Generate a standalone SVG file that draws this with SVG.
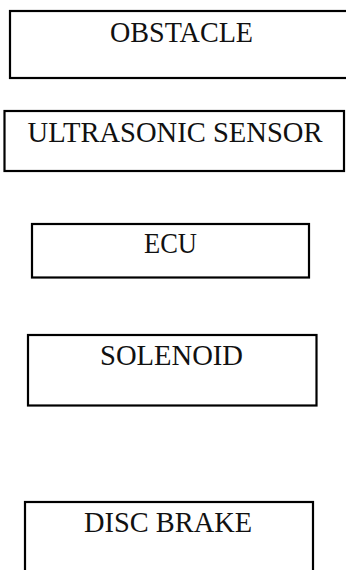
<svg xmlns="http://www.w3.org/2000/svg" width="346" height="570" viewBox="0 0 346 570">
<style>
.box{fill:#fff;stroke:#000;stroke-width:2.2}
.lbl{font-family:"Liberation Serif","DejaVu Serif",serif;font-size:30px;fill:#111}
</style>
<rect width="346" height="570" fill="#fff"/>
<g id="connectors"></g>
<g id="obstacle">
<rect class="box" x="10" y="11" width="346" height="67"/>
<text class="lbl" x="110" y="41.5" textLength="143" lengthAdjust="spacingAndGlyphs">OBSTACLE</text>
</g>
<g id="ultrasonic-sensor">
<rect class="box" x="4.5" y="111" width="339.5" height="60"/>
<text class="lbl" x="27.5" y="141.5" textLength="295" lengthAdjust="spacingAndGlyphs">ULTRASONIC SENSOR</text>
</g>
<g id="ecu">
<rect class="box" x="32" y="224" width="277" height="53.5"/>
<text class="lbl" x="144" y="252.5" textLength="53" lengthAdjust="spacingAndGlyphs">ECU</text>
</g>
<g id="solenoid">
<rect class="box" x="28" y="335" width="288.5" height="70.5"/>
<text class="lbl" x="100" y="365" textLength="143" lengthAdjust="spacingAndGlyphs">SOLENOID</text>
</g>
<g id="disc-brake">
<rect class="box" x="25" y="502" width="288" height="100"/>
<text class="lbl" x="84" y="532" textLength="168" lengthAdjust="spacingAndGlyphs">DISC BRAKE</text>
</g>
</svg>
